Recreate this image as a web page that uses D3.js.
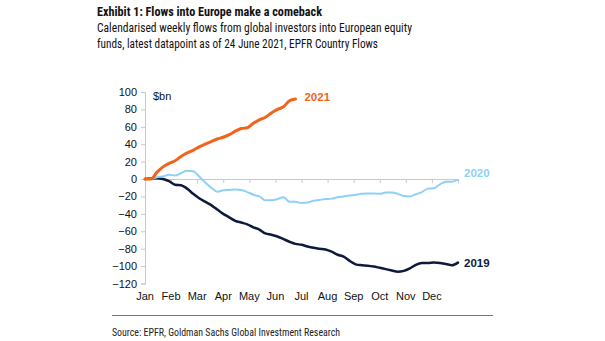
<!DOCTYPE html>
<html>
<head>
<meta charset="utf-8">
<script src="https://cdn.jsdelivr.net/npm/d3@7"></script>
<style>
  body { margin: 0; background: #fff; }
  svg { display: block; }
</style>
</head>
<body>
<script>
var width = 605;
var height = 341;

// month labels on the x axis
var months = ['Jan', 'Feb', 'Mar', 'Apr', 'May', 'Jun', 'Jul', 'Aug', 'Sep', 'Oct', 'Nov', 'Dec'];
var yTicks = [100, 80, 60, 40, 20, 0, -20, -40, -60, -80, -100, -120];

// cumulative weekly flows, $bn, one value per week from 1 Jan
var flows2019 = [0, 0.5, 1, 0, -2.5, -6.5, -7, -11, -17, -22, -26, -30, -35, -40, -44, -48, -50, -52,
    -55.5, -58, -62.5, -64, -66, -69, -72, -74.5, -75.5, -77.5, -79, -80, -81, -83.5, -87, -89, -94,
    -98, -99, -99.5, -100.5, -102, -103.5, -105, -106.5, -105.5, -102.5, -98.5, -96.5, -96.5, -96,
    -96.5, -97.5, -99, -96];
var flows2020 = [0, 0, 2, 3, 5, 4, 7, 9.5, 9, 3, -4, -10, -14.5, -13, -12.5, -12, -12.5, -15, -18,
    -20, -24.5, -24.5, -23, -21, -26, -26, -27.5, -27, -25, -24, -23, -22.5, -21, -20, -19, -18, -17,
    -16.5, -16.5, -17, -15.5, -15.5, -17, -19.5, -20, -17.5, -15, -11, -10.5, -6, -3, -3, -1];
var flows2021 = [0, 0, 8, 14, 18, 21, 26, 30, 33, 37, 40, 43, 46, 48, 51, 55, 58, 59, 64, 68, 71,
    76, 80, 83, 90, 92];

var series = [
    { name: '2019', values: flows2019, color: '#0d1a3c', width: 2.5, dy: 4 },
    { name: '2020', values: flows2020, color: '#8ed0f6', width: 2, dy: -3 },
    { name: '2021', values: flows2021, color: '#f26419', width: 3, dy: 2 }
];

var svg = d3.select('body').append('svg')
    .attr('width', width)
    .attr('height', height);

var narrow = "'Liberation Sans Narrow', 'Arial Narrow', 'Roboto Condensed', sans-serif";
var arial = "'Liberation Sans', Arial, sans-serif";

// titles, stretched to the widths of the original lines
svg.append('text')
    .attr('x', 97).attr('y', 16)
    .attr('textLength', 225).attr('lengthAdjust', 'spacingAndGlyphs')
    .style('font-family', narrow).style('font-weight', 'bold').style('font-size', '13.5px')
    .style('fill', '#111')
    .text('Exhibit 1: Flows into Europe make a comeback');
svg.append('text')
    .attr('x', 97).attr('y', 32)
    .attr('textLength', 315).attr('lengthAdjust', 'spacingAndGlyphs')
    .style('font-family', narrow).style('font-size', '13.5px').style('fill', '#111')
    .text('Calendarised weekly flows from global investors into European equity');
svg.append('text')
    .attr('x', 97).attr('y', 48)
    .attr('textLength', 281).attr('lengthAdjust', 'spacingAndGlyphs')
    .style('font-family', narrow).style('font-size', '13.5px').style('fill', '#111')
    .text('funds, latest datapoint as of 24 June 2021, EPFR Country Flows');

var x = d3.scaleLinear().domain([0, 12]).range([145, 458]);
var y = d3.scaleLinear().domain([100, -120]).range([92, 283.5]);
var week = 12 / 52;

// y axis
var yAxis = svg.append('g')
    .attr('transform', 'translate(145,0)')
    .call(d3.axisLeft(y).tickValues(yTicks).tickSize(4).tickPadding(4));
yAxis.select('.domain').attr('stroke', '#c8c8c8');
yAxis.selectAll('.tick line').attr('stroke', '#c8c8c8');
yAxis.selectAll('.tick text')
    .style('font-family', arial).style('font-size', '11px')
    .style('fill', '#111');

// x axis along the zero line
var xAxis = svg.append('g')
    .attr('transform', 'translate(0,' + y(0) + ')')
    .call(d3.axisBottom(x).tickValues(d3.range(12)).tickSize(4).tickFormat(''));
xAxis.select('.domain').attr('stroke', '#c8c8c8');
xAxis.selectAll('.tick line').attr('stroke', '#c8c8c8');

svg.append('g').selectAll('text').data(months).enter().append('text')
    .attr('x', function (d, i) { return x(i); })
    .attr('y', 300)
    .attr('text-anchor', 'middle')
    .style('font-family', arial).style('font-size', '11px')
    .style('fill', '#111')
    .text(function (d) { return d; });

svg.append('text')
    .attr('x', 153).attr('y', 100)
    .style('font-family', arial).style('font-size', '11px')
    .style('fill', '#111')
    .text('$bn');

var line = d3.line()
    .x(function (d, i) { return x(i * week); })
    .y(function (d) { return y(d); })
    .curve(d3.curveMonotoneX);

svg.append('g').selectAll('path').data(series).enter().append('path')
    .attr('d', function (d) { return line(d.values); })
    .attr('fill', 'none')
    .attr('stroke', function (d) { return d.color; })
    .attr('stroke-width', function (d) { return d.width; })
    .attr('stroke-linejoin', 'round')
    .attr('stroke-linecap', 'round');

// end labels
svg.append('g').selectAll('text').data(series).enter().append('text')
    .attr('x', function (d) { return x((d.values.length - 1) * week) + (d.name == '2021' ? 9 : 6); })
    .attr('y', function (d) { return y(d.values[d.values.length - 1]) + d.dy; })
    .style('font-family', arial).style('font-size', '11.5px')
    .style('font-weight', 'bold')
    .style('fill', function (d) { return d.color; })
    .text(function (d) { return d.name; });

// source
svg.append('line')
    .attr('x1', 112).attr('x2', 493).attr('y1', 315.5).attr('y2', 315.5)
    .attr('stroke', '#777').attr('stroke-width', 1);
svg.append('text')
    .attr('x', 112).attr('y', 336)
    .attr('textLength', 228).attr('lengthAdjust', 'spacingAndGlyphs')
    .style('font-family', narrow).style('font-size', '11.5px').style('fill', '#222')
    .text('Source: EPFR, Goldman Sachs Global Investment Research');
</script>
</body>
</html>
